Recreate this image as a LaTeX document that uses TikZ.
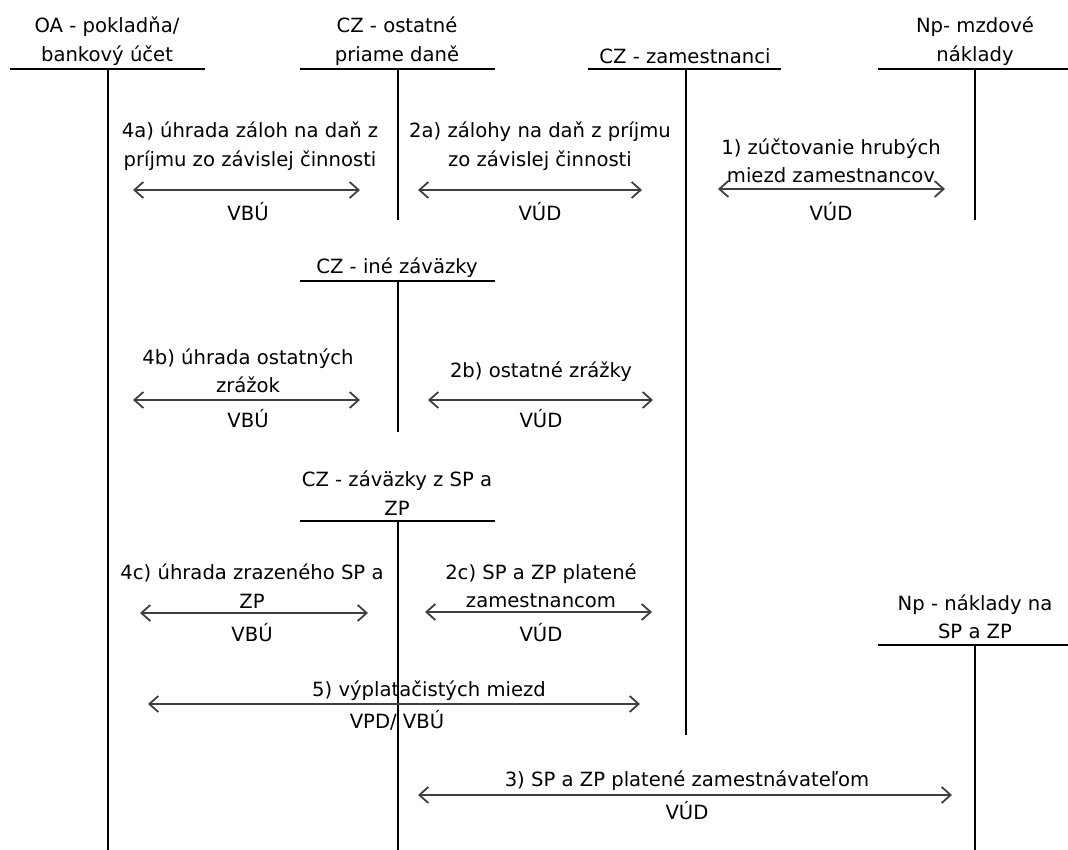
\documentclass[tikz,border=0pt]{standalone}
\usepackage{fontspec}
\setmainfont{DejaVu Sans}
\usetikzlibrary{arrows.meta}

\begin{document}
\begin{tikzpicture}[x=1pt, y=-1pt,
  acct/.style={line width=2pt},
  flow/.style={{Straight Barb[length=9pt,width=16pt]}-{Straight Barb[length=9pt,width=16pt]}, line width=1.8pt, draw=black!75},
  lbl/.style={align=center, inner sep=0pt, font=\fontsize{19.6}{28.5}\selectfont}]

\useasboundingbox (0,0) rectangle (1068,850);

% T accounts
\node[lbl] (oa) at (107, 41) {OA - pokladňa/\\bankový účet};
\node[lbl] (czdane) at (397, 41) {CZ - ostatné\\priame daně};
\node[lbl] (czzam) at (685, 56) {CZ - zamestnanci};
\node[lbl] (npmzdy) at (975, 41) {Np- mzdové\\náklady};
\node[lbl] (czine) at (397, 268) {CZ - iné záväzky};
\node[lbl] (czspzp) at (397, 493) {CZ - záväzky z SP a\\ZP};
\node[lbl] (npspzp) at (975, 617) {Np - náklady na\\SP a ZP};

\coordinate (oa-l) at (10, 69);  \coordinate (oa-r) at (205, 69);
\coordinate (oa-t) at (108, 69); \coordinate (oa-b) at (108, 850);
\coordinate (czdane-l) at (300, 69); \coordinate (czdane-r) at (495, 69);
\coordinate (czdane-t) at (398, 69); \coordinate (czdane-b) at (398, 220);
\coordinate (czzam-l) at (588, 69); \coordinate (czzam-r) at (781, 69);
\coordinate (czzam-t) at (686, 69); \coordinate (czzam-b) at (686, 735);
\coordinate (npmzdy-l) at (878, 69); \coordinate (npmzdy-r) at (1068, 69);
\coordinate (npmzdy-t) at (975, 69); \coordinate (npmzdy-b) at (975, 220);
\coordinate (czine-l) at (300, 281); \coordinate (czine-r) at (495, 281);
\coordinate (czine-t) at (398, 281); \coordinate (czine-b) at (398, 432);
\coordinate (czspzp-l) at (300, 521); \coordinate (czspzp-r) at (495, 521);
\coordinate (czspzp-t) at (398, 521); \coordinate (czspzp-b) at (398, 850);
\coordinate (npspzp-l) at (878, 645); \coordinate (npspzp-r) at (1068, 645);
\coordinate (npspzp-t) at (975, 645); \coordinate (npspzp-b) at (975, 850);

\draw[acct] (oa-l) -- (oa-r) (oa-t) -- (oa-b);
\draw[acct] (czdane-l) -- (czdane-r) (czdane-t) -- (czdane-b);
\draw[acct] (czzam-l) -- (czzam-r) (czzam-t) -- (czzam-b);
\draw[acct] (npmzdy-l) -- (npmzdy-r) (npmzdy-t) -- (npmzdy-b);
\draw[acct] (czine-l) -- (czine-r) (czine-t) -- (czine-b);
\draw[acct] (czspzp-l) -- (czspzp-r) (czspzp-t) -- (czspzp-b);
\draw[acct] (npspzp-l) -- (npspzp-r) (npspzp-t) -- (npspzp-b);

% postings
\node[lbl] (t4a) at (250, 146) {4a) úhrada záloh na daň z\\príjmu zo závislej činnosti};
\node[lbl] (v4a) at (248, 212) {VBÚ};
\coordinate (a4a-l) at (133, 190); \coordinate (a4a-r) at (360, 190);
\draw[flow] (a4a-l) -- (a4a-r);

\node[lbl] (t2a) at (540, 146) {2a) zálohy na daň z príjmu\\zo závislej činnosti};
\node[lbl] (v2a) at (540, 212) {VÚD};
\coordinate (a2a-l) at (418, 190); \coordinate (a2a-r) at (642, 190);
\draw[flow] (a2a-l) -- (a2a-r);

\node[lbl] (t1) at (831, 161) {1) zúčtovanie hrubých\\miezd zamestnancov};
\node[lbl] (v1) at (831, 212) {VÚD};
\coordinate (a1-l) at (718, 189); \coordinate (a1-r) at (945, 189);
\draw[flow] (a1-l) -- (a1-r);

\node[lbl] (t4b) at (248, 371) {4b) úhrada ostatných\\zrážok};
\node[lbl] (v4b) at (248, 419) {VBÚ};
\coordinate (a4b-l) at (133, 400); \coordinate (a4b-r) at (360, 400);
\draw[flow] (a4b-l) -- (a4b-r);

\node[lbl] (t2b) at (541, 372) {2b) ostatné zrážky};
\node[lbl] (v2b) at (541, 419) {VÚD};
\coordinate (a2b-l) at (428, 400); \coordinate (a2b-r) at (653, 400);
\draw[flow] (a2b-l) -- (a2b-r);

\node[lbl] (t4c) at (252, 586) {4c) úhrada zrazeného SP a\\ZP};
\node[lbl] (v4c) at (252, 633) {VBÚ};
\coordinate (a4c-l) at (140, 613); \coordinate (a4c-r) at (368, 613);
\draw[flow] (a4c-l) -- (a4c-r);

\node[lbl] (t2c) at (541, 586) {2c) SP a ZP platené\\zamestnancom};
\node[lbl] (v2c) at (541, 633) {VÚD};
\coordinate (a2c-l) at (425, 612); \coordinate (a2c-r) at (652, 612);
\draw[flow] (a2c-l) -- (a2c-r);

\node[lbl] (t5) at (429, 691) {5) výplatačistých miezd};
\node[lbl] (v5) at (397, 720) {VPD/ VBÚ};
\coordinate (a5-l) at (148, 704); \coordinate (a5-r) at (640, 704);
\draw[flow] (a5-l) -- (a5-r);

\node[lbl] (t3) at (687, 781) {3) SP a ZP platené zamestnávateľom};
\node[lbl] (v3) at (687, 811) {VÚD};
\coordinate (a3-l) at (418, 795); \coordinate (a3-r) at (952, 795);
\draw[flow] (a3-l) -- (a3-r);

\end{tikzpicture}
\end{document}
